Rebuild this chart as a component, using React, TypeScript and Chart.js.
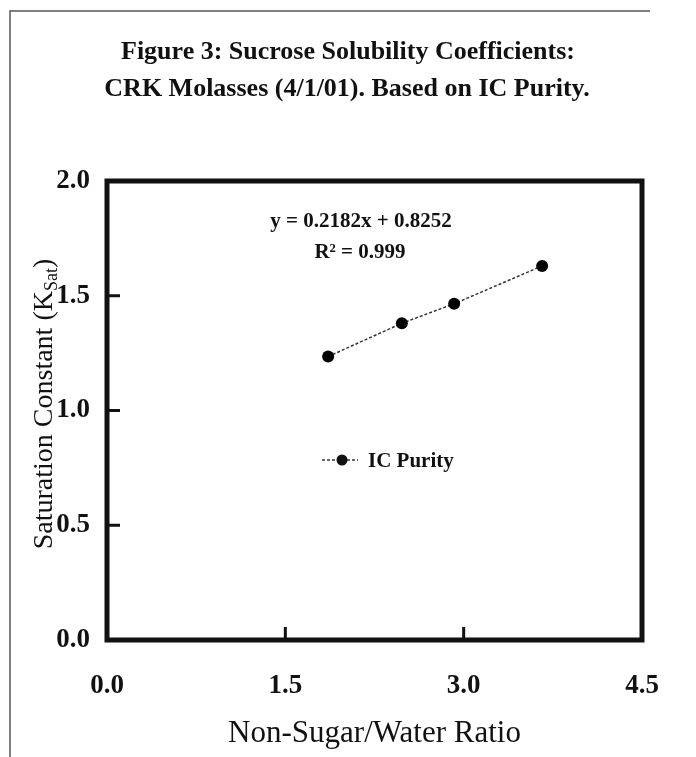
import React, { useEffect, useRef } from "react";
import { Chart, registerables } from "chart.js";

Chart.register(...registerables);

const titleLines = [
  "Figure 3: Sucrose Solubility Coefficients:",
  "CRK Molasses (4/1/01). Based on IC Purity.",
];
const seriesName = "IC Purity";
const xValues = [1.86, 2.48, 2.92, 3.66];
const yValues = [1.235, 1.38, 1.465, 1.63];
const xTicks = [0, 1.5, 3.0, 4.5];
const yTicks = [0, 0.5, 1.0, 1.5, 2.0];
const equationLines = ["y = 0.2182x + 0.8252", "R² = 0.999"];
const xTitle = "Non-Sugar/Water Ratio";
const yTitleMain = "Saturation Constant (K";
const yTitleSub = "Sat";
const yTitleEnd = ")";

const SERIF = '"Liberation Serif", "Times New Roman", serif';
const INK = "#111111";

const decorPlugin = {
  id: "decor",
  beforeDraw(chart: any) {
    const ctx = chart.ctx;
    ctx.save();
    ctx.fillStyle = "#ffffff";
    ctx.fillRect(0, 0, chart.width, chart.height);
    // outer figure border (left and top)
    ctx.strokeStyle = "#555555";
    ctx.lineWidth = 1.5;
    ctx.beginPath();
    ctx.moveTo(10, chart.height);
    ctx.lineTo(10, 11);
    ctx.lineTo(650, 11);
    ctx.stroke();
    ctx.restore();
  },
  afterDatasetsDraw(chart: any) {
    const ctx = chart.ctx;
    const { left, right, top, bottom } = chart.chartArea;
    const xs = chart.scales.x;
    const ys = chart.scales.y;
    ctx.save();
    ctx.strokeStyle = INK;
    ctx.fillStyle = INK;
    // inside tick marks
    ctx.lineWidth = 3;
    ctx.beginPath();
    yTicks.forEach((v) => {
      if (v === yTicks[0] || v === yTicks[yTicks.length - 1]) return;
      const py = ys.getPixelForValue(v);
      ctx.moveTo(left, py);
      ctx.lineTo(left + 13, py);
    });
    xTicks.forEach((v) => {
      if (v === xTicks[0] || v === xTicks[xTicks.length - 1]) return;
      const px = xs.getPixelForValue(v);
      ctx.moveTo(px, bottom);
      ctx.lineTo(px, bottom - 13);
    });
    ctx.stroke();
    // plot frame
    ctx.lineWidth = 5;
    ctx.strokeRect(left, top, right - left, bottom - top);

    // figure title
    ctx.textAlign = "center";
    ctx.textBaseline = "alphabetic";
    ctx.font = `bold 26px ${SERIF}`;
    ctx.fillText(titleLines[0], 348, 59);
    ctx.fillText(titleLines[1], 347, 96);

    // trendline equation
    ctx.font = `bold 21px ${SERIF}`;
    ctx.fillText(equationLines[0], 361, 227);
    ctx.fillText(equationLines[1], 360, 258);

    // legend
    const ds = chart.data.datasets[0];
    ctx.save();
    ctx.strokeStyle = ds.borderColor;
    ctx.lineWidth = ds.borderWidth;
    ctx.setLineDash(ds.borderDash);
    ctx.beginPath();
    ctx.moveTo(322, 460);
    ctx.lineTo(358, 460);
    ctx.stroke();
    ctx.restore();
    ctx.beginPath();
    ctx.arc(342, 460, 5.5, 0, Math.PI * 2);
    ctx.fill();
    ctx.textAlign = "left";
    ctx.font = `bold 21px ${SERIF}`;
    ctx.fillText(ds.label, 368, 467);

    // x axis title
    ctx.textAlign = "center";
    ctx.font = `31px ${SERIF}`;
    ctx.fillText(xTitle, (left + right) / 2, 742);

    // y axis title with subscript
    ctx.save();
    ctx.translate(52, 404);
    ctx.rotate(-Math.PI / 2);
    const mainFont = `28px ${SERIF}`;
    const subFont = `18px ${SERIF}`;
    ctx.font = mainFont;
    const w1 = ctx.measureText(yTitleMain).width;
    const w3 = ctx.measureText(yTitleEnd).width;
    ctx.font = subFont;
    const w2 = ctx.measureText(yTitleSub).width;
    const total = w1 + w2 + w3;
    let x0 = -total / 2;
    ctx.textAlign = "left";
    ctx.font = mainFont;
    ctx.fillText(yTitleMain, x0, 0);
    x0 += w1;
    ctx.font = subFont;
    ctx.fillText(yTitleSub, x0, 5);
    x0 += w2;
    ctx.font = mainFont;
    ctx.fillText(yTitleEnd, x0, 0);
    ctx.restore();

    ctx.restore();
  },
};

export default function App() {
  const ref = useRef<HTMLCanvasElement | null>(null);
  useEffect(() => {
    if (!ref.current) return;
    const chart = new Chart(ref.current, {
      type: "scatter",
      data: {
        datasets: [
          {
            label: seriesName,
            data: xValues.map((x, i) => ({ x, y: yValues[i] })),
            showLine: true,
            borderColor: "#333333",
            borderWidth: 1.5,
            borderDash: [3, 2],
            pointRadius: 6,
            pointBackgroundColor: "#000000",
            pointBorderColor: "#000000",
            pointBorderWidth: 0,
          } as any,
        ],
      },
      options: {
        animation: false,
        responsive: false,
        devicePixelRatio: 1,
        layout: { padding: { top: 181, right: 54, left: 0, bottom: 0 } },
        plugins: {
          legend: { display: false },
          title: { display: false },
          tooltip: { enabled: false },
        },
        scales: {
          x: {
            type: "linear",
            min: 0,
            max: 4.5,
            afterBuildTicks: (s: any) => {
              s.ticks = xTicks.map((v) => ({ value: v }));
            },
            afterFit: (s: any) => {
              s.height = 117;
            },
            grid: { display: false, drawTicks: false },
            border: { display: false },
            ticks: {
              padding: 30,
              color: INK,
              font: { family: SERIF, size: 27, weight: "bold" },
              callback: (v: any) => Number(v).toFixed(1),
              maxRotation: 0,
            },
          },
          y: {
            type: "linear",
            min: 0,
            max: 2,
            afterBuildTicks: (s: any) => {
              s.ticks = yTicks.map((v) => ({ value: v }));
            },
            afterFit: (s: any) => {
              s.width = 107;
            },
            grid: { display: false, drawTicks: false },
            border: { display: false },
            ticks: {
              padding: 17,
              color: INK,
              font: { family: SERIF, size: 27, weight: "bold" },
              callback: (v: any) => Number(v).toFixed(1),
            },
          },
        },
      },
      plugins: [decorPlugin],
    });
    return () => chart.destroy();
  }, []);
  return (
    <div style={{ position: "fixed", left: 0, top: 0, width: 696, height: 757, background: "#fff" }}>
      <canvas ref={ref} width={696} height={757} style={{ display: "block" }} />
    </div>
  );
}
